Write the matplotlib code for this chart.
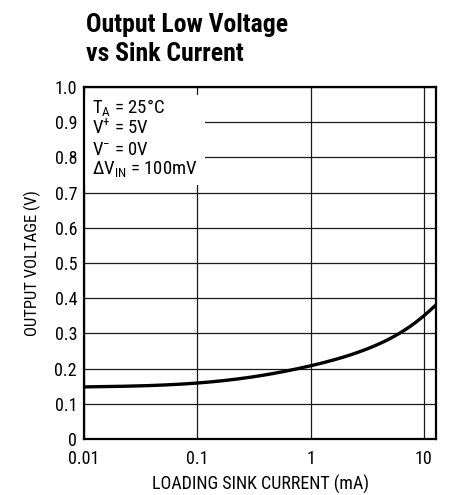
import matplotlib
matplotlib.use("Agg")
import matplotlib.pyplot as plt
from matplotlib.patches import Rectangle
from matplotlib import font_manager
import numpy as np

# Data
current_ma = [0.01, 0.0316, 0.1, 0.316, 1.0, 3.16, 10.0, 12.8]
output_v = [0.148, 0.151, 0.159, 0.177, 0.208, 0.256, 0.350, 0.381]
x_ticks = [0.01, 0.1, 1, 10]
x_ticklabels = ["0.01", "0.1", "1", "10"]
y_ticks = [0, 0.1, 0.2, 0.3, 0.4, 0.5, 0.6, 0.7, 0.8, 0.9, 1.0]
y_ticklabels = ["0", "0.1", "0.2", "0.3", "0.4", "0.5", "0.6", "0.7", "0.8", "0.9", "1.0"]
cond_lines = [r"$\mathregular{T_A}$ = 25°C",
              r"$\mathregular{V^{+}}$ = 5V",
              r"$\mathregular{V^{-}}$ = 0V",
              r"$\mathregular{ΔV_{IN}}$ = 100mV"]
title_lines = ["Output Low Voltage", "vs Sink Current"]

names = {f.name for f in font_manager.fontManager.ttflist}
cands = ["Roboto Condensed", "Liberation Sans Narrow", "DejaVu Sans Condensed", "Roboto"]
fam = [c for c in cands if c in names] + ["DejaVu Sans"]
plt.rcParams["font.family"] = fam
plt.rcParams["mathtext.fontset"] = "custom"
plt.rcParams["mathtext.rm"] = fam[0]
plt.rcParams["mathtext.it"] = fam[0]


def natural_spline(x, y, xn):
    x = np.asarray(x, float); y = np.asarray(y, float)
    n = len(x); h = np.diff(x)
    A = np.zeros((n, n)); r = np.zeros(n)
    A[0, 0] = A[-1, -1] = 1.0
    for i in range(1, n - 1):
        A[i, i-1] = h[i-1]; A[i, i] = 2*(h[i-1] + h[i]); A[i, i+1] = h[i]
        r[i] = 6*((y[i+1]-y[i])/h[i] - (y[i]-y[i-1])/h[i-1])
    M = np.linalg.solve(A, r)
    idx = np.clip(np.searchsorted(x, xn) - 1, 0, n - 2)
    a = x[idx+1] - xn; b = xn - x[idx]; hh = h[idx]
    return (M[idx]*a**3/(6*hh) + M[idx+1]*b**3/(6*hh)
            + (y[idx]/hh - M[idx]*hh/6)*a + (y[idx+1]/hh - M[idx+1]*hh/6)*b)


W, H = 454, 495
fig = plt.figure(figsize=(W/100, H/100), dpi=100)
L, R, T, B = 84, 436, 87, 439
ax = fig.add_axes([L/W, 1-B/H, (R-L)/W, (B-T)/H])

lx = np.log10(current_ma)
xs = np.linspace(lx[0], lx[-1], 300)
ys = natural_spline(lx, output_v, xs)
ax.plot(10**xs, ys, color="black", lw=2.4, zorder=3, solid_capstyle="butt")

ax.set_xscale("log")
ax.set_xlim(0.01, 12.8)
ax.set_ylim(0, 1.0)
ax.set_xticks(x_ticks)
ax.set_xticklabels(x_ticklabels)
ax.minorticks_off()
ax.set_yticks(y_ticks)
ax.set_yticklabels(y_ticklabels)
ax.tick_params(length=0, labelsize=13, pad=5, colors="black")
ax.tick_params(axis="x", pad=8)
ax.grid(True, which="major", color="#1a1a1a", lw=0.9)
ax.set_axisbelow(True)
for s in ax.spines.values():
    s.set_linewidth(1.6)
    s.set_zorder(4)

ax.add_patch(Rectangle((0.004, 0.722), 0.34, 0.255, transform=ax.transAxes,
                       facecolor="white", edgecolor="none", zorder=2))
baselines = [0.926, 0.866, 0.808, 0.753]
for t, yb in zip(cond_lines, baselines):
    ax.text(0.023, yb, t, transform=ax.transAxes, fontsize=13.5, va="baseline",
            ha="left", zorder=5)

ax.set_xlabel("LOADING SINK CURRENT (mA)", fontsize=13, labelpad=5)
ax.set_ylabel("OUTPUT VOLTAGE (V)", fontsize=12, labelpad=10)

for t, yb in zip(title_lines, [32, 61]):
    fig.text(86/W, 1-yb/H, t, fontsize=18.5, fontweight="bold",
             ha="left", va="baseline")

fig.savefig("out.png", dpi=100)
